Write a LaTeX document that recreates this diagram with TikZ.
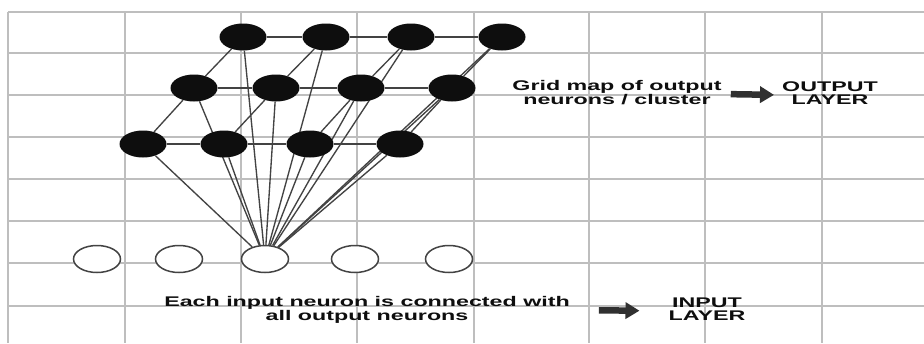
\documentclass[tikz,border=0pt]{standalone}
\usepackage{fontspec}
\setmainfont{Liberation Sans}
\usetikzlibrary{arrows.meta,shapes.geometric}
\definecolor{gridgray}{HTML}{BEBEBE}
\definecolor{wire}{HTML}{434343}
\definecolor{ink}{HTML}{0E0E0E}
\definecolor{arrowgray}{HTML}{303030}
% horizontally widened label text
\newcommand{\widetext}[1]{\scalebox{1.66}[1]{\begin{tabular}{@{}c@{}}#1\end{tabular}}}
\pgfdeclarelayer{gridlayer}
\pgfdeclarelayer{linklayer}
\pgfsetlayers{gridlayer,linklayer,main}

\begin{document}
\begin{tikzpicture}[x=1pt,y=-1pt,
  outneuron/.style={ellipse, minimum width=47pt, minimum height=27pt, inner sep=0pt, fill=ink},
  inneuron/.style={ellipse, minimum width=47pt, minimum height=27pt, inner sep=0pt, draw=wire, line width=1.5pt, fill=white},
  link/.style={draw=wire, line width=1.35pt},
  caption/.style={font=\bfseries\fontsize{14}{12.5}\selectfont, text=ink, inner sep=0pt},
  blockarrow/.style={draw=arrowgray, line width=6.5pt, -{Triangle[length=14pt,width=16pt]}}
]
\useasboundingbox (0,0) rectangle (924,343);

% background grid
\begin{pgfonlayer}{gridlayer}
\fill[white] (0,0) rectangle (924,343);
\foreach \x in {8,125,241,357,474,589,705,822}
  \draw[gridgray, line width=2pt] (\x,12) -- (\x,343);
\foreach \y in {12,53,95,137,179,221,263,306}
  \draw[gridgray, line width=1.6pt] (8,\y) -- (924,\y);
\end{pgfonlayer}

% output layer (grid map of neurons)
\node[outneuron] (t1) at (243,37) {};
\node[outneuron] (t2) at (326,37) {};
\node[outneuron] (t3) at (411,37) {};
\node[outneuron] (t4) at (502,37) {};
\node[outneuron] (m1) at (194,88) {};
\node[outneuron] (m2) at (276,88) {};
\node[outneuron] (m3) at (361,88) {};
\node[outneuron] (m4) at (452,88) {};
\node[outneuron] (b1) at (143,144) {};
\node[outneuron] (b2) at (224,144) {};
\node[outneuron] (b3) at (310,144) {};
\node[outneuron] (b4) at (400,144) {};

% input layer
\node[inneuron] (i1) at (97,259) {};
\node[inneuron] (i2) at (179,259) {};
\node[inneuron] (i3) at (265,259) {};
\node[inneuron] (i4) at (355,259) {};
\node[inneuron] (i5) at (449,259) {};

\begin{pgfonlayer}{linklayer}
% lattice links between output neurons
\foreach \r in {t,m,b}{
  \draw[link] (\r1) -- (\r2);
  \draw[link] (\r2) -- (\r3);
  \draw[link] (\r3) -- (\r4);
}
\foreach \i in {1,2,3,4}{
  \draw[link] (t\i) -- (m\i);
  \draw[link] (m\i) -- (b\i);
}
% one input neuron linked to every output neuron
\foreach \r in {t,m,b}
  \foreach \i in {1,2,3,4}
    \draw[link] (i3) -- (\r\i);
\end{pgfonlayer}

% captions
\node[caption] (gridmap) at (617,94) {\widetext{Grid map of output\\neurons / cluster}};
\node[caption] (outlayer) at (830,95) {\widetext{OUTPUT\\LAYER}};
\node[caption] (each) at (367,310) {\widetext{Each input neuron is connected with\\all output neurons}};
\node[caption] (inlayer) at (707,311) {\widetext{INPUT\\LAYER}};

\draw[blockarrow, shorten <=9pt, shorten >=8pt] (gridmap.east) -- (outlayer.west);
\draw[blockarrow, shorten <=29pt, shorten >=29pt] (each.east) -- (inlayer.west);
\end{tikzpicture}
\end{document}
